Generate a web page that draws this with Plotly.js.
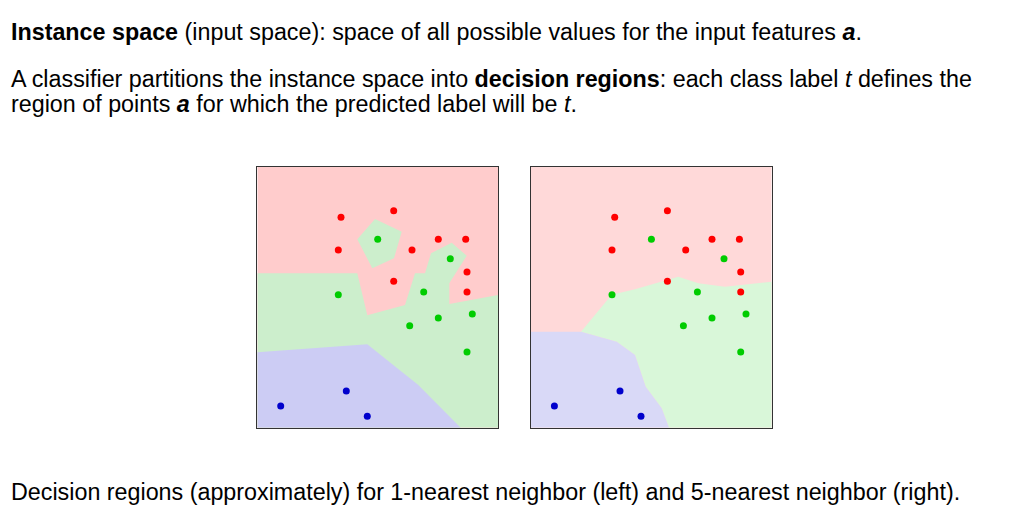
<!DOCTYPE html>
<html>
<head>
<meta charset="utf-8">
<script src="https://cdn.plot.ly/plotly-3.0.1.min.js"></script>
<style>html,body{margin:0;padding:0;background:#fff;}#chart{width:1022px;height:523px;}</style>
</head>
<body>
<div id="chart"></div>
<script>
// Training points (same in both panels), coordinates in panel units
const redX = [83.7, 136.4, 181, 208.4, 81, 154.7, 209.7, 136.4, 209.7];
const redY = [210.4, 217, 188.4, 188.4, 177.7, 177.7, 155.7, 146.4, 135.7];
const greenX = [120.4, 193, 81, 166.4, 215, 181, 152.4, 209.7];
const greenY = [188.4, 169, 133, 135.7, 113.7, 109.7, 102, 75.7];
const blueX = [89, 23.4, 110];
const blueY = [36.7, 21.7, 11.4];

// Panel extent
const panelX = [0, 240.7, 240.7, 0, 0];
const panelY = [0, 0, 261, 261, 0];

// 1-NN regions (left)
const nn1GreenX = [0, 100, 110, 147.7, 157.7, 167.7, 173.7, 194.4, 209.4, 192, 192, 240.7, 240.7, 0, 0];
const nn1GreenY = [154.4, 154.4, 112.4, 122.7, 154.4, 154.4, 174.4, 185, 172, 144.4, 123.7, 132.7, 0, 0, 154.4];
const nn1IslandX = [100, 117.7, 144.4, 136.7, 115, 100];
const nn1IslandY = [188.4, 208.7, 196, 169.4, 159.4, 188.4];
const nn1BlueX = [0, 0, 110, 161, 203.4, 0];
const nn1BlueY = [0, 75.4, 83.4, 42.7, 0, 0];

// 5-NN regions (right)
const nn5GreenX = [50, 80.7, 104, 147.3, 167.3, 194, 240.7, 240.7, 138, 130.7, 114.7, 104, 85.7, 50];
const nn5GreenY = [96, 133, 138.4, 151, 144.4, 141, 146, 0, 0, 19.4, 41, 72.7, 86, 96];
const nn5BlueX = [0, 0, 50, 85.7, 104, 114.7, 130.7, 138, 0];
const nn5BlueY = [0, 96, 96, 86, 72.7, 41, 19.4, 0, 0];

function poly(x, y, color, ax) {
  return {x: x, y: y, xaxis: ax[0], yaxis: ax[1], type: 'scatter', mode: 'lines',
    fill: 'toself', fillcolor: color, line: {width: 0, color: color},
    hoverinfo: 'skip', showlegend: false};
}
function pts(x, y, color, ax) {
  return {x: x, y: y, xaxis: ax[0], yaxis: ax[1], type: 'scatter', mode: 'markers',
    marker: {size: 7, color: color}, hoverinfo: 'skip', showlegend: false, cliponaxis: false};
}
const L = ['x', 'y'], R = ['x2', 'y2'];
const traces = [
  poly(panelX, panelY, '#ffcccc', L),
  poly(nn1GreenX, nn1GreenY, '#cceecc', L),
  poly(nn1IslandX, nn1IslandY, '#cceecc', L),
  poly(nn1BlueX, nn1BlueY, '#ccccf4', L),
  pts(redX, redY, '#ff0000', L), pts(greenX, greenY, '#00cc00', L), pts(blueX, blueY, '#0000cc', L),
  poly(panelX, panelY, '#ffd9d9', R),
  poly(nn5GreenX, nn5GreenY, '#d9f7d9', R),
  poly(nn5BlueX, nn5BlueY, '#d9d9f7', R),
  pts(redX, redY, '#ff0000', R), pts(greenX, greenY, '#00cc00', R), pts(blueX, blueY, '#0000cc', R)
];

const W = 1022, H = 523;
function ax(d0, d1, range, anchor) {
  return {domain: [d0, d1], range: range, showgrid: false, zeroline: false, showticklabels: false,
    ticks: '', showline: true, mirror: true, linecolor: '#333', linewidth: 1, fixedrange: true, anchor: anchor};
}
const font = {family: 'Liberation Sans, Arial, sans-serif', size: 23.3, color: '#000'};
function txt(text, ypx) {
  return {text: text, xref: 'paper', yref: 'paper', x: 9 / W, y: 1 - ypx / H,
    xanchor: 'left', yanchor: 'middle', showarrow: false, align: 'left', font: font};
}
const layout = {
  width: W, height: H,
  margin: {l: 0, r: 0, t: 0, b: 0},
  paper_bgcolor: '#fff', plot_bgcolor: 'rgba(0,0,0,0)',
  showlegend: false,
  xaxis: ax(257.3 / W, 498 / W, [0, 240.7], 'y'),
  yaxis: ax(1 - 427.7 / H, 1 - 166.7 / H, [0, 261], 'x'),
  xaxis2: ax(531 / W, 771.7 / W, [0, 240.7], 'y2'),
  yaxis2: ax(1 - 427.7 / H, 1 - 166.7 / H, [0, 261], 'x2'),
  annotations: [
    txt('<b>Instance space</b> (input space): space of all possible values for the input features <b><i>a</i></b>.', 32),
    txt('A classifier partitions the instance space into <b>decision regions</b>: each class label <i>t</i> defines the', 79),
    txt('region of points <b><i>a</i></b> for which the predicted label will be <i>t</i>.', 104),
    txt('Decision regions (approximately) for 1-nearest neighbor (left) and 5-nearest neighbor (right).', 492)
  ]
};
Plotly.newPlot('chart', traces, layout, {displayModeBar: false, staticPlot: true});
</script>
</body>
</html>
